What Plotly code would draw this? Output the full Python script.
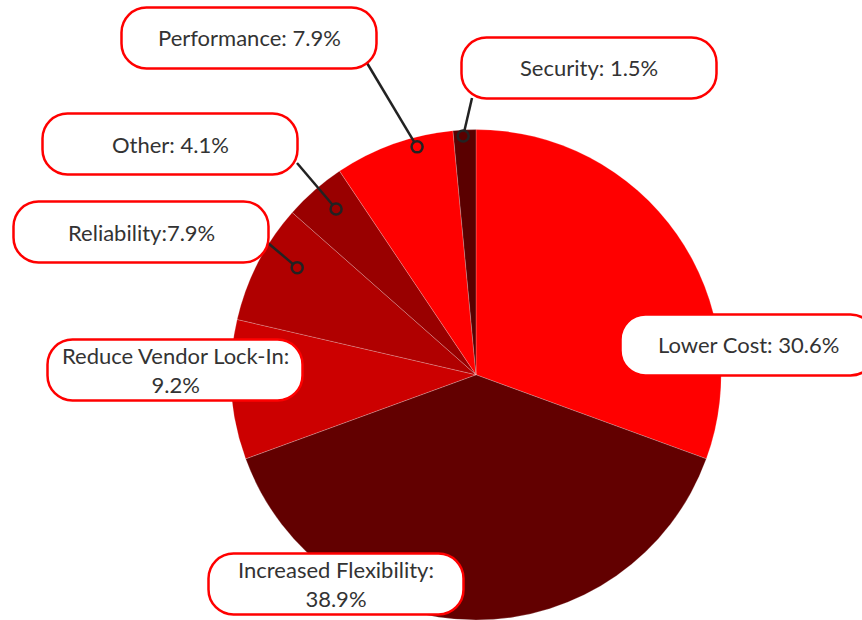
import math
import plotly.graph_objects as go

# ---- data ----
categories = ["Lower Cost", "Increased Flexibility", "Reduce Vendor Lock-In",
              "Reliability", "Other", "Performance", "Security"]
shares = [30.6, 38.9, 9.2, 7.9, 4.1, 7.9, 1.5]
separators = [": ", ":<br>", ":<br>", ":", ": ", ": ", ": "]
slice_colors = ["#ff0000", "#620000", "#cc0000", "#b00000", "#990000", "#ff0000", "#5a0000"]

W, H = 862, 620

# ---- layout of the callout boxes (pixel space, origin top-left) ----
box_w, box_h, box_r = 255, 61, 25
box_centers = {
    "Lower Cost": (748, 345),
    "Increased Flexibility": (336, 584),
    "Reduce Vendor Lock-In": (175, 370),
    "Reliability": (141, 232),
    "Other": (170, 144),
    "Performance": (249, 38),
    "Security": (589, 68),
}
# connector: start point on the box, and where inside the slice the ring sits
# (fraction along the slice's arc, fraction of the radius)
connectors = {
    "Performance": ((367, 63), 0.68, 0.96),
    "Security": ((472, 98), 0.43, 0.975),
    "Other": ((297, 163), 0.57, 0.885),
    "Reliability": ((268, 243), 0.63, 0.85),
}

# ---- pie placement ----
pie_cx = 476
dom_y = [0.0, 0.791]
r_px = dom_y[1] * H / 2
dom_x = [(pie_cx - r_px) / W, (pie_cx + r_px) / W]
pie_cy = H - r_px  # from top


def px(x):
    return x / W


def py(y):
    return 1 - y / H


fig = go.Figure()
fig.add_trace(go.Pie(
    labels=categories,
    values=shares,
    sort=False,
    direction="clockwise",
    rotation=0,
    textinfo="none",
    hoverinfo="skip",
    showlegend=False,
    domain=dict(x=dom_x, y=dom_y),
    marker=dict(colors=slice_colors, line=dict(color="rgba(255,255,255,0.35)", width=0.6)),
))

shapes = []
annotations = []

# slice angular spans (degrees clockwise from 12 o'clock)
total = sum(shares)
spans = {}
acc = 0.0
for cat, v in zip(categories, shares):
    a0 = acc / total * 360
    acc += v
    spans[cat] = (a0, acc / total * 360)

ring_r = 5.5
for cat, ((sx, sy), t, rf) in connectors.items():
    a0, a1 = spans[cat]
    ang = math.radians(a0 + t * (a1 - a0))
    ex = pie_cx + rf * r_px * math.sin(ang)
    ey = pie_cy - rf * r_px * math.cos(ang)
    d = math.hypot(ex - sx, ey - sy)
    lx = ex - (ex - sx) / d * ring_r
    ly = ey - (ey - sy) / d * ring_r
    shapes.append(dict(type="line", xref="paper", yref="paper",
                       x0=px(sx), y0=py(sy), x1=px(lx), y1=py(ly),
                       line=dict(color="#222222", width=2.5), layer="above"))
    shapes.append(dict(type="circle", xref="paper", yref="paper",
                       x0=px(ex - ring_r), x1=px(ex + ring_r),
                       y0=py(ey - ring_r), y1=py(ey + ring_r),
                       line=dict(color="#222222", width=2.5), layer="above"))


def pill_path(cx, cy, w, h, r):
    k = 0.5523 * r
    x0, x1 = cx - w / 2, cx + w / 2
    y0, y1 = cy - h / 2, cy + h / 2
    pts = [
        ("M", [(x0 + r, y0)]),
        ("L", [(x1 - r, y0)]),
        ("C", [(x1 - r + k, y0), (x1, y0 + r - k), (x1, y0 + r)]),
        ("L", [(x1, y1 - r)]),
        ("C", [(x1, y1 - r + k), (x1 - r + k, y1), (x1 - r, y1)]),
        ("L", [(x0 + r, y1)]),
        ("C", [(x0 + r - k, y1), (x0, y1 - r + k), (x0, y1 - r)]),
        ("L", [(x0, y0 + r)]),
        ("C", [(x0, y0 + r - k), (x0 + r - k, y0), (x0 + r, y0)]),
    ]
    out = []
    for cmd, ps in pts:
        out.append(cmd + " " + " ".join(f"{px(a):.5f},{py(b):.5f}" for a, b in ps))
    return " ".join(out) + " Z"


for cat, v, sep in zip(categories, shares, separators):
    cx, cy = box_centers[cat]
    shapes.append(dict(type="path", xref="paper", yref="paper",
                       path=pill_path(cx, cy, box_w, box_h, box_r),
                       fillcolor="white", line=dict(color="#ff0000", width=2.5),
                       layer="above"))
    annotations.append(dict(x=px(cx), y=py(cy), xref="paper", yref="paper",
                            text=f"{cat}{sep}{v}%", showarrow=False,
                            xanchor="center", yanchor="middle", align="center",
                            font=dict(family="Lato", size=22, color="#333333")))

fig.update_layout(
    width=W, height=H,
    margin=dict(l=0, r=0, t=0, b=0),
    paper_bgcolor="white",
    plot_bgcolor="white",
    shapes=shapes,
    annotations=annotations,
    showlegend=False,
)

fig.write_html("out.html")
